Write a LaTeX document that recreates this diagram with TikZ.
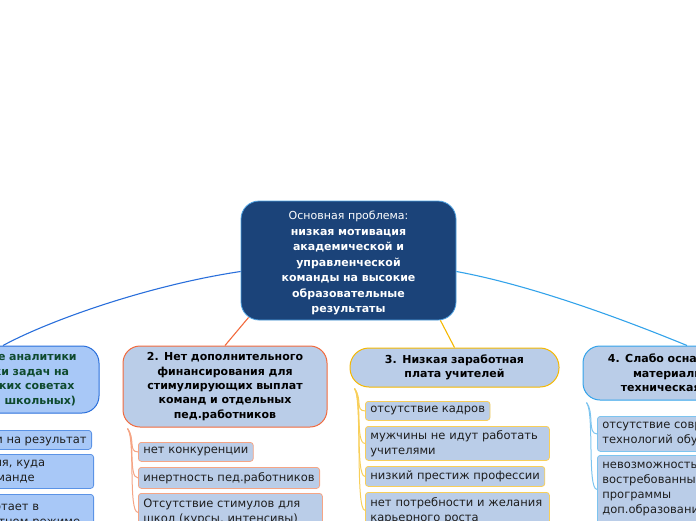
\documentclass[tikz,border=0pt]{standalone}
\usepackage{fontspec}
\setmainfont{DejaVu Sans}
\usetikzlibrary{calc}
\definecolor{navy}{HTML}{1B4379}
\definecolor{mainborder}{HTML}{4FA3E3}
\definecolor{blueA}{HTML}{2A6FDB}
\definecolor{nAfill}{HTML}{A8C8F7}
\definecolor{nAtext}{HTML}{0E4A2E}
\definecolor{nAsub}{HTML}{5B93E6}
\definecolor{subfill}{HTML}{BACDE8}
\definecolor{redB}{HTML}{F26A3D}
\definecolor{redBl}{HTML}{F5A585}
\definecolor{yelC}{HTML}{F5B800}
\definecolor{yelCl}{HTML}{F8CF5A}
\definecolor{bluD}{HTML}{34A3EA}
\definecolor{bluDl}{HTML}{7DC4EF}
\definecolor{subtext}{HTML}{1E1E1E}
\tikzset{
  mainbox/.style={draw=mainborder, fill=navy, text=white, rounded corners=18, line width=0.8,
    align=center, font=\fontsize{11}{15.5}\selectfont},
  topicbox/.style={fill=subfill, rounded corners=17, line width=1, align=center,
    font=\bfseries\fontsize{11}{14.4}\selectfont, text=black},
  subbox/.style={fill=subfill, rounded corners=3, line width=0.8, align=left, inner xsep=5pt,
    inner ysep=3pt, text=subtext, font=\fontsize{11.5}{15}\selectfont},
  mainlink/.style={line width=1.1},
  sublink/.style={line width=1}
}
\begin{document}
\begin{tikzpicture}[x=1pt,y=-1pt]
\useasboundingbox (0,0) rectangle (696,520);
\clip (0,0) rectangle (696,520);

% central node
\node[mainbox, text width=205pt, minimum width=215pt, minimum height=119pt] (c) at (348.5,260.5)
 {\rule{0pt}{14pt}Основная проблема:\\\textbf{низкая мотивация}\\\textbf{академической и}\\\textbf{управленческой}\\\textbf{команды на высокие}\\\textbf{образовательные}\\\textbf{результаты}};

% topic nodes
\node[topicbox, draw=blueA, fill=nAfill, text=nAtext, text width=175pt, minimum width=204pt, minimum height=67pt] (t1) at (-3,379.5)
 {1. Отсутствие аналитики\\и постановки задач на\\педагогических советах\\(городских и школьных)};
\node[topicbox, draw=redB, text width=185pt, minimum width=204pt, minimum height=81pt] (t2) at (225,386.5)
 {2. Нет дополнительного\\финансирования для\\стимулирующих выплат\\команд и отдельных\\пед.работников};
\node[topicbox, draw=yelC, rounded corners=19, text width=190pt, minimum width=209pt, minimum height=39pt] (t3) at (454.5,367.5)
 {3. Низкая заработная\\плата учителей};
\node[topicbox, draw=bluD, text width=170pt, minimum width=188pt, minimum height=54pt] (t4) at (677,373)
 {4. Слабо оснащенная\\материально-\\техническая база};

% children of 1
\node[subbox, draw=nAsub, fill=nAfill, anchor=north east, minimum height=19pt] (a1) at (92,430)
 {нет общей цели на результат};
\node[subbox, draw=nAsub, fill=nAfill, anchor=north east, text width=172pt, minimum height=34pt] (a2) at (94,454)
 {нет понимания, куда\\двигаться команде};
\node[subbox, draw=nAsub, fill=nAfill, anchor=north east, text width=140pt, minimum height=40pt] (a3) at (94,494)
 {всё работает в\\стандартном режиме};

% children of 2
\node[subbox, draw=redBl, anchor=north west, minimum height=19pt] (b1) at (138,442) {нет конкуренции};
\node[subbox, draw=redBl, anchor=north west, minimum height=21pt] (b2) at (138,467) {инертность пед.работников};
\node[subbox, draw=redBl, anchor=north west, text width=174pt, minimum height=38pt] (b3) at (138,493)
 {Отсутствие стимулов для\\школ (курсы, интенсивы)};

% children of 3
\node[subbox, draw=yelCl, anchor=north west, minimum height=19pt] (s1) at (365,401) {отсутствие кадров};
\node[subbox, draw=yelCl, anchor=north west, text width=174pt, minimum height=34pt] (s2) at (365,426)
 {мужчины не идут работать\\учителями};
\node[subbox, draw=yelCl, anchor=north west, minimum height=20pt] (s3) at (365,466) {низкий престиж профессии};
\node[subbox, draw=yelCl, anchor=north west, text width=174pt, minimum height=36pt] (s4) at (365,492)
 {нет потребности и желания\\карьерного роста};

% children of 4
\node[subbox, draw=bluDl, anchor=north west, text width=190pt, minimum height=35pt] (d1) at (597,416)
 {отсутствие современных\\технологий обучения};
\node[subbox, draw=bluDl, anchor=north west, text width=190pt, minimum height=68pt] (d2) at (597,455)
 {невозможность реализовать\\востребованные\\программы\\доп.образования};

% main connectors
\draw[mainlink, blueA] ($(c.west)+(0,11)$) .. controls (150,285) and (50,320) .. ($(t1.north)+(6,0)$);
\draw[mainlink, bluD] ($(c.east)+(0,11)$) .. controls (530,285) and (620,318) .. ($(t4.north)+(10,0)$);
\draw[mainlink, redB] ($(c.south west)+(8,-3)$) -- (t2.north);
\draw[mainlink, yelC] ($(c.south east)+(-16,0)$) -- (t3.north);

% sub connectors
\foreach \ch in {a1,a2,a3}
  \draw[sublink, nAsub] ($(t1.south west)+(5,1)$) .. controls +(8,10) and +(-10,0) .. (\ch.west);
\foreach \ch in {b1,b2,b3}
  \draw[sublink, redBl] ($(t2.south west)+(5,1)$) .. controls +(8,10) and +(-10,0) .. (\ch.west);
\foreach \ch in {s1,s2,s3,s4}
  \draw[sublink, yelCl] ($(t3.south west)+(5,1)$) .. controls +(8,10) and +(-10,0) .. (\ch.west);
\foreach \ch in {d1,d2}
  \draw[sublink, bluDl] ($(t4.south west)+(4,2)$) .. controls +(8,10) and +(-10,0) .. (\ch.west);
\end{tikzpicture}
\end{document}
